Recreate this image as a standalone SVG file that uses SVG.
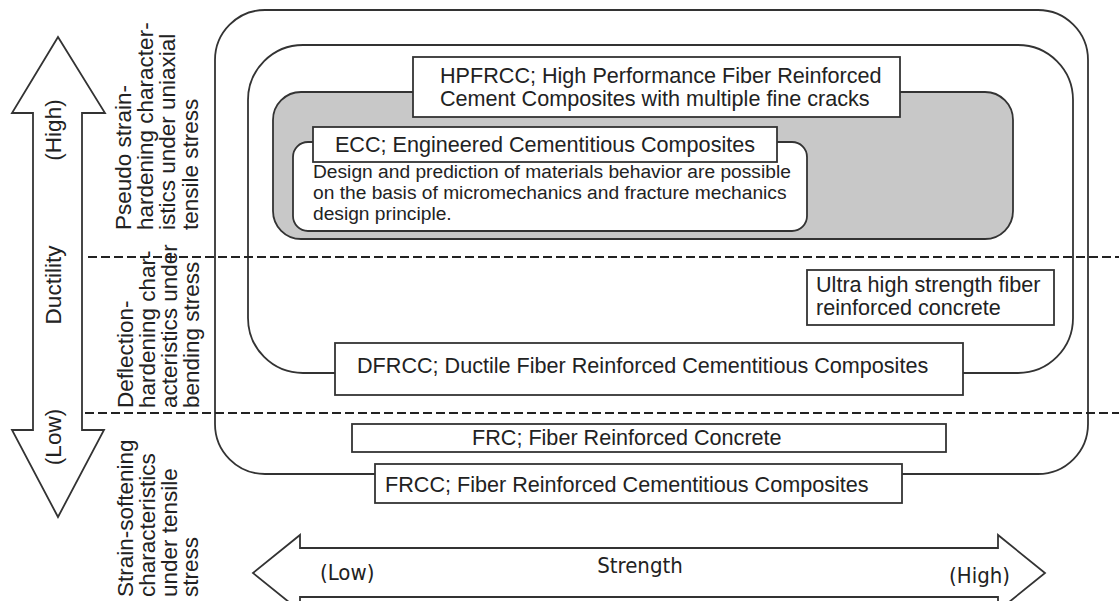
<svg xmlns="http://www.w3.org/2000/svg" width="1119" height="601" viewBox="0 0 1119 601">
<style>
.ln{fill:none;stroke:#333;stroke-width:1.8}
.bx{fill:#fff;stroke:#333;stroke-width:1.8}
.t{font-family:"Liberation Sans",Arial,sans-serif;font-size:21.6px;fill:#222}
.s{font-family:"Liberation Sans",Arial,sans-serif;font-size:19.2px;fill:#222}
.v{font-family:"Liberation Sans",Arial,sans-serif;font-size:22.5px;fill:#222}
.n{font-family:"Liberation Sans Narrow","DejaVu Sans Condensed","Liberation Sans",sans-serif;font-size:22px;fill:#222}
.d{fill:none;stroke:#222;stroke-width:2;stroke-dasharray:9 4}
</style>
<rect width="1119" height="601" fill="#fff"/>
<g id="frcc-region"><rect class="ln" x="215" y="10" width="873" height="464" rx="50"/></g>
<g id="dfrcc-region"><rect class="ln" x="248" y="45" width="825" height="328" rx="55"/></g>
<g id="hpfrcc-region"><rect x="273" y="92" width="740" height="147" rx="28" fill="#c8c8c8" stroke="#333" stroke-width="1.8"/></g>
<g id="ecc-region"><rect class="bx" x="293" y="142" width="514" height="89" rx="15"/>
<text class="s" x="313" y="178">Design and prediction of materials behavior are possible</text>
<text class="s" x="313" y="199">on the basis of micromechanics and fracture mechanics</text>
<text class="s" x="313" y="220">design principle.</text></g>
<g id="hpfrcc"><rect class="bx" x="413" y="57" width="487" height="60"/>
<text class="t" x="440" y="83">HPFRCC; High Performance Fiber Reinforced</text>
<text class="t" x="440" y="106">Cement Composites with multiple fine cracks</text></g>
<g id="ecc"><rect class="bx" x="313" y="127" width="464" height="35"/>
<text class="t" x="545" y="152" text-anchor="middle">ECC; Engineered Cementitious Composites</text></g>
<g id="uhsfrc"><rect class="bx" x="807" y="270" width="247" height="55"/>
<text class="t" x="816" y="292">Ultra high strength fiber</text>
<text class="t" x="816" y="315">reinforced concrete</text></g>
<g id="dfrcc"><rect class="bx" x="335" y="343" width="628" height="52"/>
<text class="t" x="357" y="373">DFRCC; Ductile Fiber Reinforced Cementitious Composites</text></g>
<g id="frc"><rect class="bx" x="352" y="424" width="594" height="28"/>
<text class="t" x="472" y="445">FRC; Fiber Reinforced Concrete</text></g>
<g id="frcc"><rect class="bx" x="375" y="464" width="527" height="39"/>
<text class="t" x="385" y="492">FRCC; Fiber Reinforced Cementitious Composites</text></g>
<g id="dividers">
<line class="d" x1="88" y1="257" x2="1119" y2="257"/>
<line class="d" x1="85" y1="413" x2="1119" y2="413"/>
</g>
<g id="ductility-axis">
<polygon class="ln" points="58,37 105,113 82,113 82,430 104,430 58,517 12,430 33,430 33,113 12,113"/>
<text class="v" transform="translate(61,130) rotate(-90)" text-anchor="middle">(High)</text>
<text class="v" transform="translate(61,285) rotate(-90)" text-anchor="middle">Ductility</text>
<text class="v" transform="translate(61,437) rotate(-90)" text-anchor="middle">(Low)</text>
</g>
<g id="zone-labels">
<g transform="translate(0,230) rotate(-90)">
<text class="v" x="0" y="131">Pseudo strain-</text>
<text class="v" x="0" y="153">hardening character-</text>
<text class="v" x="0" y="175">istics under uniaxial</text>
<text class="v" x="0" y="198">tensile stress</text>
</g>
<g transform="translate(0,408) rotate(-90)">
<text class="v" x="0" y="133">Deflection-</text>
<text class="v" x="0" y="155">hardening char-</text>
<text class="v" x="0" y="177">acteristics under</text>
<text class="v" x="0" y="199">bending stress</text>
</g>
<g transform="translate(0,597) rotate(-90)">
<text class="v" x="0" y="133">Strain-softening</text>
<text class="v" x="0" y="155">characteristics</text>
<text class="v" x="0" y="177">under tensile</text>
<text class="v" x="0" y="198">stress</text>
</g>
</g>
<g id="strength-axis">
<polygon class="ln" points="253,573 300,535 300,548 998,548 998,535 1045,573 998,611 998,597 300,597 300,611"/>
<text class="n" x="320" y="580">(Low)</text>
<text class="n" x="640" y="573" text-anchor="middle">Strength</text>
<text class="n" x="1010" y="583" text-anchor="end">(High)</text>
</g>
</svg>
